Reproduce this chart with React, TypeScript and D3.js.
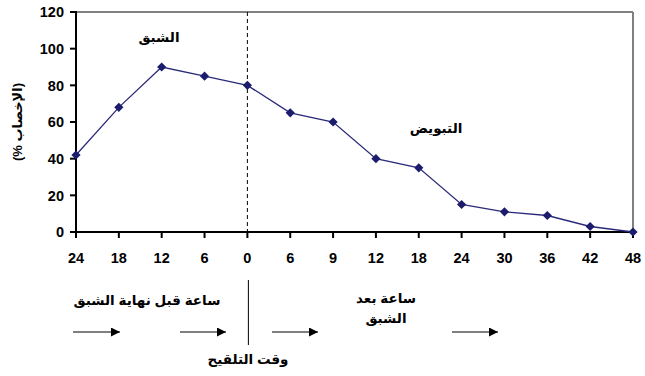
import React from "react";
import * as d3 from "d3";

const categories = ["24", "18", "12", "6", "0", "6", "9", "12", "18", "24", "30", "36", "42", "48"];
const fertility = [42, 68, 90, 85, 80, 65, 60, 40, 35, 15, 11, 9, 3, 0];
const yTicks = [0, 20, 40, 60, 80, 100, 120];
const yLabel = "(الإخصاب %)";
const estrusLabel = "الشبق";
const ovulationLabel = "التبويض";
const beforeLabel = "ساعة قبل نهاية الشبق";
const afterLabel1 = "ساعة بعد";
const afterLabel2 = "الشبق";
const inseminationLabel = "وقت التلقيح";

const W = 645;
const H = 376;
const left = 76;
const right = 633;
const top = 12;
const bottom = 232;

export default function App() {
  const idx = categories.map((_, i) => i);
  const x = d3.scalePoint<number>().domain(idx).range([left, right]).padding(0);
  const y = d3.scaleLinear().domain([0, 120]).range([bottom, top]);
  const line = d3
    .line<number>()
    .x((_, i) => x(i) as number)
    .y((d) => y(d));
  const r = 4.6;
  const diamond = `M0,${-r}L${r},0L0,${r}L${-r},0Z`;
  const zeroX = x(4) as number;
  const font = "'Liberation Sans', Arial, 'DejaVu Sans', sans-serif";
  const arrowSegs: [number, number][] = [
    [73, 120],
    [180, 226],
    [272, 318],
    [452, 498],
  ];
  const arrowY = 332;

  return (
    <svg
      width={W}
      height={H}
      style={{ position: "absolute", left: 0, top: 0, background: "#fff" }}
      fontFamily={font}
    >
      <defs>
        <marker id="ah" viewBox="0 0 10 10" refX="10" refY="5" markerWidth="11" markerHeight="9" markerUnits="userSpaceOnUse" orient="auto">
          <path d="M0,0 L10,5 L0,10 z" fill="#000" />
        </marker>
      </defs>
      <line x1={left} x2={right} y1={top} y2={top} stroke="#808080" strokeWidth={2} />
      <line x1={right} x2={right} y1={top} y2={bottom} stroke="#808080" strokeWidth={2} />
      <line x1={zeroX} x2={zeroX} y1={top} y2={bottom} stroke="#000" strokeWidth={1} strokeDasharray="4,3" />
      <line x1={left} x2={left} y1={top - 1} y2={bottom + 1} stroke="#000" strokeWidth={2} />
      {yTicks.map((t) => (
        <g key={t}>
          <line x1={left - 6} x2={left} y1={y(t)} y2={y(t)} stroke="#000" strokeWidth={2} />
          <text x={left - 12} y={y(t)} dy="0.36em" textAnchor="end" fontSize={14.5} fontWeight="bold">
            {t}
          </text>
        </g>
      ))}
      <line x1={left - 1} x2={right + 1} y1={bottom} y2={bottom} stroke="#000" strokeWidth={2} />
      {categories.map((c, i) => (
        <g key={i}>
          <line x1={x(i)} x2={x(i)} y1={bottom} y2={bottom + 6} stroke="#000" strokeWidth={2} />
          <text x={x(i)} y={258} dy="0.36em" textAnchor="middle" fontSize={14.5} fontWeight="bold">
            {c}
          </text>
        </g>
      ))}
      <path d={line(fertility) as string} fill="none" stroke="#2a2a7a" strokeWidth={1.3} />
      {fertility.map((v, i) => (
        <path key={i} d={diamond} transform={`translate(${x(i)},${y(v)})`} fill="#1c1c6c" />
      ))}
      <text
        transform={`translate(22,122) rotate(-90)`}
        textAnchor="middle"
        fontSize={13}
        fontWeight="bold"
        direction="rtl"
      >
        {yLabel}
      </text>
      <text x={159} y={42} textAnchor="middle" fontSize={13.5} fontWeight="bold">
        {estrusLabel}
      </text>
      <text x={436} y={133} textAnchor="middle" fontSize={13.5} fontWeight="bold">
        {ovulationLabel}
      </text>
      <text x={147} y={305} textAnchor="middle" fontSize={13.5} fontWeight="bold">
        {beforeLabel}
      </text>
      <text x={386} y={303} textAnchor="middle" fontSize={13.5} fontWeight="bold">
        {afterLabel1}
      </text>
      <text x={386} y={323} textAnchor="middle" fontSize={13.5} fontWeight="bold">
        {afterLabel2}
      </text>
      <text x={248} y={364} textAnchor="middle" fontSize={13.5} fontWeight="bold">
        {inseminationLabel}
      </text>
      <line x1={zeroX + 1} x2={zeroX + 1} y1={280} y2={345} stroke="#000" strokeWidth={1} />
      {arrowSegs.map(([a, b], i) => (
        <line key={i} x1={a} x2={b} y1={arrowY} y2={arrowY} stroke="#000" strokeWidth={1} markerEnd="url(#ah)" />
      ))}
    </svg>
  );
}
